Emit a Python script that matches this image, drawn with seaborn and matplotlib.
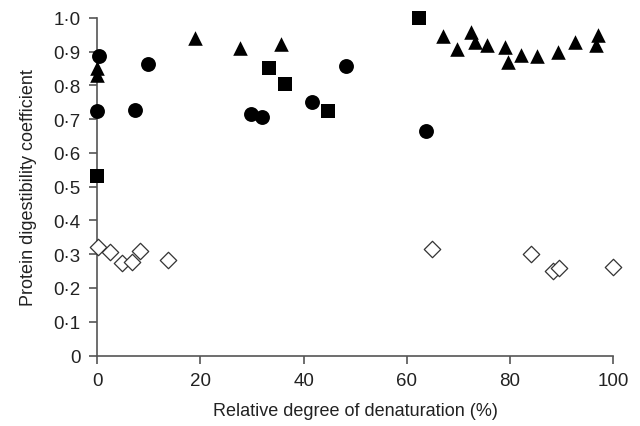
import pandas as pd
import seaborn as sns
import matplotlib.pyplot as plt
from matplotlib.ticker import FixedLocator

# Данные
circle_x = [0.0, 0.3, 7.4, 9.8, 29.8, 31.9, 41.7, 48.3, 63.8]
circle_y = [0.724, 0.888, 0.727, 0.864, 0.715, 0.705, 0.751, 0.858, 0.666]

square_x = [0.0, 33.3, 36.4, 44.8, 62.4]
square_y = [0.531, 0.852, 0.804, 0.724, 1.0]

triangle_x = [0.0, 0.0, 19.0, 27.7, 35.7, 67.0, 69.7, 72.5, 73.3, 75.6,
              79.1, 79.6, 82.2, 85.2, 89.4, 92.6, 97.0, 96.6]
triangle_y = [0.852, 0.831, 0.94, 0.910, 0.923, 0.946, 0.908, 0.958, 0.928, 0.920,
              0.913, 0.868, 0.890, 0.886, 0.898, 0.928, 0.950, 0.918]

diamond_x = [0.1, 2.4, 4.8, 6.8, 8.2, 13.7, 64.9, 84.0, 88.3, 89.6, 99.9]
diamond_y = [0.320, 0.307, 0.275, 0.278, 0.309, 0.282, 0.315, 0.300, 0.250, 0.260, 0.262]

y_ticks = [0, 0.1, 0.2, 0.3, 0.4, 0.5, 0.6, 0.7, 0.8, 0.9, 1.0]
x_ticks = [0, 20, 40, 60, 80, 100]

sns.set_style("ticks")
plt.rcParams['font.family'] = ['Liberation Sans', 'DejaVu Sans']

fig = plt.figure(figsize=(6.4, 4.27), dpi=100)
ax = fig.add_axes([0.152, 0.165, 0.806, 0.791])

grey = '#555555'

sns.scatterplot(x=circle_x, y=circle_y, marker='o', s=115, color='black',
                edgecolor='black', linewidth=0, ax=ax, clip_on=False, zorder=3)
sns.scatterplot(x=square_x, y=square_y, marker='s', s=100, color='black',
                edgecolor='black', linewidth=0, ax=ax, clip_on=False, zorder=3)
sns.scatterplot(x=triangle_x, y=triangle_y, marker='^', s=110, color='black',
                edgecolor='black', linewidth=0, ax=ax, clip_on=False, zorder=3)
sns.scatterplot(x=diamond_x, y=diamond_y, marker='D', s=70, facecolor='white',
                edgecolor='#333333', linewidth=0.9, ax=ax, clip_on=False, zorder=3)

ax.set_xlim(0, 100)
ax.set_ylim(0, 1.0)
ax.xaxis.set_major_locator(FixedLocator(x_ticks))
ax.yaxis.set_major_locator(FixedLocator(y_ticks))
ax.set_xticklabels([str(t) for t in x_ticks])
ax.set_yticklabels(['0'] + [f"{t:.1f}".replace('.', '·') for t in y_ticks[1:]])

sns.despine(ax=ax)
for side in ['left', 'bottom']:
    ax.spines[side].set_color(grey)
    ax.spines[side].set_linewidth(1.2)
ax.tick_params(colors=grey, labelcolor='#222222', labelsize=13.5, length=6, width=1.2, pad=6)

ax.set_xlabel('Relative degree of denaturation (%)', fontsize=13, color='#222222', labelpad=9)
ax.set_ylabel('Protein digestibility coefficient', fontsize=13, color='#222222', labelpad=12)

fig.savefig('out.png', dpi=100)
